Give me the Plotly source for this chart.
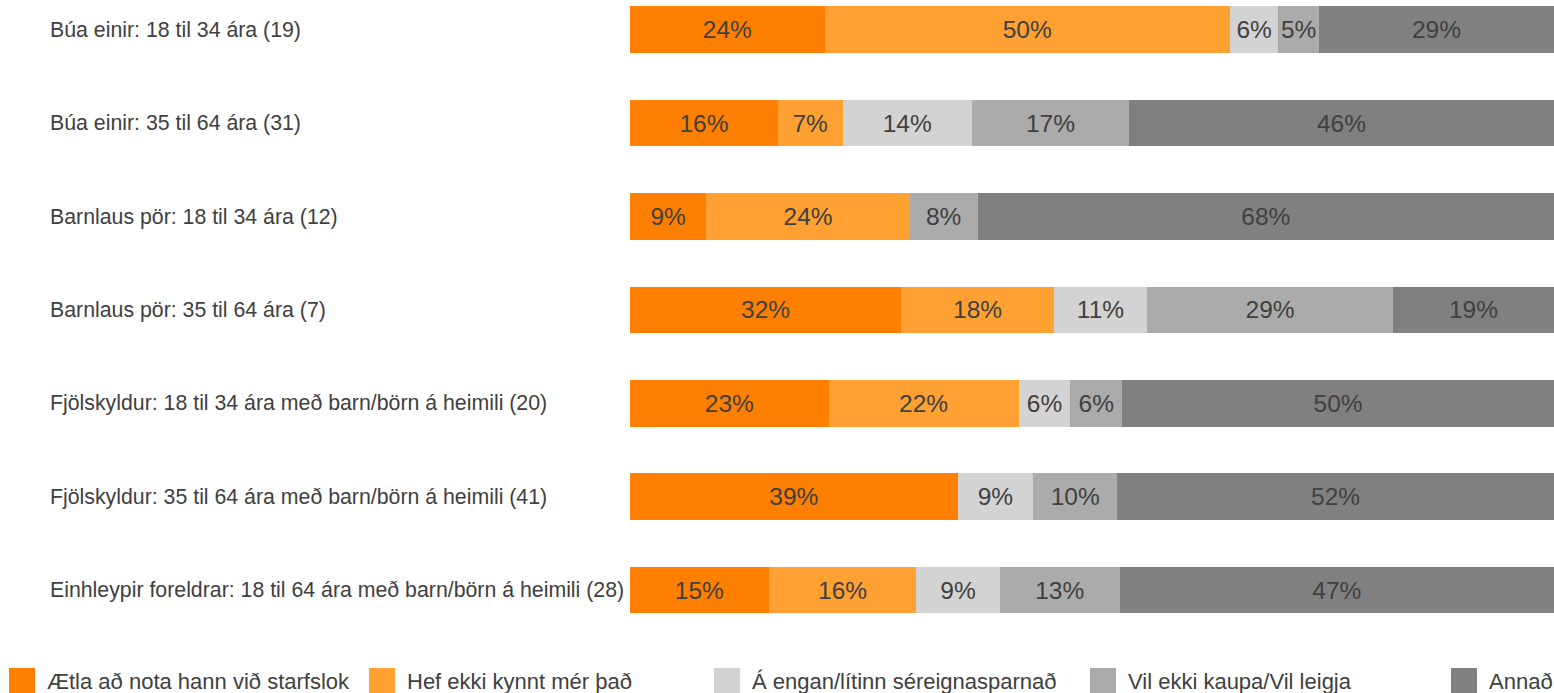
import plotly.graph_objects as go

categories = [
    "Búa einir: 18 til 34 ára (19)",
    "Búa einir: 35 til 64 ára (31)",
    "Barnlaus pör: 18 til 34 ára (12)",
    "Barnlaus pör: 35 til 64 ára (7)",
    "Fjölskyldur: 18 til 34 ára með barn/börn á heimili (20)",
    "Fjölskyldur: 35 til 64 ára með barn/börn á heimili (41)",
    "Einhleypir foreldrar: 18 til 64 ára með barn/börn á heimili (28)",
]

series_names = [
    "Ætla að nota hann við starfslok",
    "Hef ekki kynnt mér það",
    "Á engan/lítinn séreignasparnað",
    "Vil ekki kaupa/Vil leigja",
    "Annað",
]

ætla = [24, 16, 9, 32, 23, 39, 15]
hef_ekki = [50, 7, 24, 18, 22, 0, 16]
a_engan = [6, 14, 0, 11, 6, 9, 9]
vil_ekki = [5, 17, 8, 29, 6, 10, 13]
annad = [29, 46, 68, 19, 50, 52, 47]

series_values = [ætla, hef_ekki, a_engan, vil_ekki, annad]
colors = ["#FF7F00", "#FFA033", "#D3D3D3", "#ABABAB", "#808080"]

TEXT = "#404040"
FONT = "Liberation Sans, Arial, sans-serif"
W, H = 1554, 693

fig = go.Figure()
for name, vals, col in zip(series_names, series_values, colors):
    fig.add_trace(go.Bar(
        y=categories, x=vals, name=name, orientation="h",
        marker=dict(color=col, line=dict(width=0)),
        text=[f"{v}%" if v else "" for v in vals],
        textposition="inside", insidetextanchor="middle",
        constraintext="none", textangle=0,
        textfont=dict(size=24.5, color=TEXT, family=FONT),
        hoverinfo="skip", showlegend=False,
    ))

# category labels, left aligned
annotations = []
for c in categories:
    annotations.append(dict(
        x=48 / W, xref="paper", y=c, yref="y", text=c, showarrow=False,
        xanchor="left", yanchor="middle",
        font=dict(size=21.3, color=TEXT, family=FONT),
    ))

# custom legend
legend_x = [9, 369, 714, 1090, 1451]
shapes = []
for lx, name, col in zip(legend_x, series_names, colors):
    shapes.append(dict(
        type="rect", xref="paper", yref="paper",
        x0=lx / W, x1=(lx + 26) / W, y0=1 - 693 / H, y1=1 - 668 / H,
        fillcolor=col, line=dict(width=0),
    ))
    annotations.append(dict(
        x=(lx + 36) / W, xref="paper", y=1 - 681 / H, yref="paper",
        text=name, showarrow=False, xanchor="left", yanchor="middle",
        font=dict(size=22, color=TEXT, family=FONT),
    ))

fig.update_layout(
    width=W, height=H,
    margin=dict(l=0, r=0, t=0, b=0),
    barmode="stack", barnorm="percent", bargap=0.5,
    plot_bgcolor="white", paper_bgcolor="white",
    xaxis=dict(domain=[630 / W, 1], range=[0, 100], visible=False, fixedrange=True),
    yaxis=dict(range=[(693 - 29.7) / 93.4, -29.7 / 93.4], visible=False,
               categoryorder="array", categoryarray=categories),
    annotations=annotations, shapes=shapes,
    font=dict(family=FONT, color=TEXT),
    showlegend=False,
)

fig.write_html(
    "out.html",
    config={"displayModeBar": False},
    post_script="document.body.style.margin='0';document.body.style.overflow='hidden';",
)
